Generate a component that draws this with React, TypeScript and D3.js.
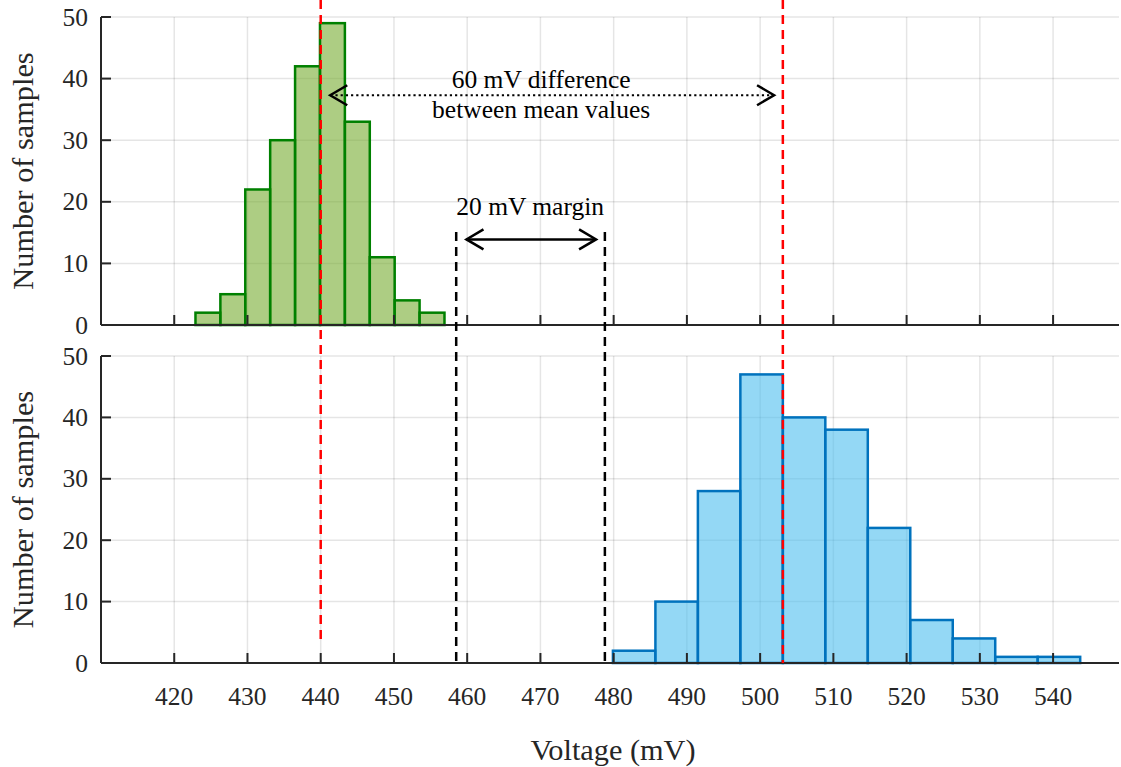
import React from "react";
import * as d3 from "d3";

// ---- data ----
const greenBinEdges = [422.9, 426.3, 429.7, 433.1, 436.5, 439.9, 443.3, 446.7, 450.1, 453.5, 456.9];
const greenCounts = [2, 5, 22, 30, 42, 49, 33, 11, 4, 2];
const blueBinEdges = [479.9, 485.7, 491.5, 497.3, 503.1, 508.9, 514.7, 520.5, 526.3, 532.1, 537.9, 543.7];
const blueCounts = [2, 10, 28, 47, 40, 38, 22, 7, 4, 1, 1];
const xTicks = [420, 430, 440, 450, 460, 470, 480, 490, 500, 510, 520, 530, 540];
const yTicks = [0, 10, 20, 30, 40, 50];
const meanLines = [440, 503.1];
const marginLines = [458.5, 478.8];
const xLabel = "Voltage (mV)";
const yLabel = "Number of samples";
const diffText = ["60 mV difference", "between mean values"];
const marginText = "20 mV margin";

const W = 1121;
const H = 767;
const FONT = "'Liberation Serif', 'Times New Roman', Times, serif";
const AX = "#262626";

export default function App() {
  const x = d3.scaleLinear().domain([410, 549]).range([101, 1119]);
  const yTop = d3.scaleLinear().domain([0, 50]).range([325, 17]);
  const yBot = d3.scaleLinear().domain([0, 50]).range([663, 356]);

  const panel = (
    y: d3.ScaleLinear<number, number>,
    edges: number[],
    counts: number[],
    fill: string,
    stroke: string,
    key: string
  ) => (
    <g key={key}>
      {yTicks.filter((t) => t > 0).map((t) => (
        <line key={"hg" + t} x1={x(410)} x2={x(549)} y1={y(t)} y2={y(t)} stroke="#000" strokeOpacity={0.1} strokeWidth={1.5} />
      ))}
      {xTicks.map((t) => (
        <line key={"vg" + t} x1={x(t)} x2={x(t)} y1={y(0)} y2={y(50)} stroke="#000" strokeOpacity={0.1} strokeWidth={1.5} />
      ))}
      {counts.map((c, i) => (
        <rect
          key={"b" + i}
          x={x(edges[i])}
          width={x(edges[i + 1]) - x(edges[i])}
          y={y(c)}
          height={y(0) - y(c)}
          fill={fill}
          fillOpacity={0.6}
          stroke={stroke}
          strokeWidth={2.5}
        />
      ))}
      <line x1={x(410)} x2={x(549)} y1={y(0)} y2={y(0)} stroke={AX} strokeWidth={2} />
      <line x1={x(410)} x2={x(410)} y1={y(0)} y2={y(50)} stroke={AX} strokeWidth={2} />
      {xTicks.map((t) => (
        <line key={"xt" + t} x1={x(t)} x2={x(t)} y1={y(0)} y2={y(0) - 10} stroke={AX} strokeWidth={2} />
      ))}
      {yTicks.map((t) => (
        <g key={"yt" + t}>
          <line x1={x(410)} x2={x(410) + 10} y1={y(t)} y2={y(t)} stroke={AX} strokeWidth={2} />
          <text x={88} y={y(t)} dy="0.34em" textAnchor="end" fontSize={25.5} fill={AX} fontFamily={FONT}>
            {t}
          </text>
        </g>
      ))}
      <text
        transform={`translate(33,${(y(0) + y(50)) / 2}) rotate(-90)`}
        textAnchor="middle"
        fontSize={30.3}
        fill={AX}
        fontFamily={FONT}
      >
        {yLabel}
      </text>
    </g>
  );

  const head = (tx: number, ty: number, dir: number) =>
    `M${tx + dir * 17},${ty - 10}L${tx},${ty}L${tx + dir * 17},${ty + 10}`;

  const dY = yTop(37.3);
  const dx1 = x(441.3);
  const dx2 = x(501.9);
  const mY = yTop(13.9);
  const mx1 = x(459.9);
  const mx2 = x(477.6);

  return (
    <svg width={W} height={H} style={{ display: "block", position: "absolute", left: 0, top: 0 }}>
      <rect width={W} height={H} fill="#fff" />
      {panel(yTop, greenBinEdges, greenCounts, "#77ac30", "#008000", "top")}
      {panel(yBot, blueBinEdges, blueCounts, "#4dbeee", "#0072bd", "bot")}

      {/* x tick labels */}
      {xTicks.map((t) => (
        <text key={"xl" + t} x={x(t)} y={705} textAnchor="middle" fontSize={25.5} fill={AX} fontFamily={FONT}>
          {t}
        </text>
      ))}
      <text x={(x(410) + x(549)) / 2 + 3} y={760} textAnchor="middle" fontSize={30.3} fill={AX} fontFamily={FONT}>
        {xLabel}
      </text>

      {/* mean lines */}
      {meanLines.map((m, i) => (
        <line
          key={"m" + i}
          x1={x(m)}
          x2={x(m)}
          y1={0}
          y2={i === 0 ? yBot(3.7) : yBot(0)}
          stroke="#ff0000"
          strokeWidth={2.5}
          strokeDasharray="9,6"
        />
      ))}
      {/* margin lines */}
      {marginLines.map((m, i) => (
        <line
          key={"mg" + i}
          x1={x(m)}
          x2={x(m)}
          y1={yTop(15.1)}
          y2={yBot(0)}
          stroke="#000"
          strokeWidth={2.5}
          strokeDasharray="9,6"
        />
      ))}

      {/* difference arrow */}
      <line x1={dx1} x2={dx2} y1={dY} y2={dY} stroke="#000" strokeWidth={2.2} strokeDasharray="2.2,3" />
      <path d={head(dx1, dY, 1)} fill="none" stroke="#000" strokeWidth={2.5} />
      <path d={head(dx2, dY, -1)} fill="none" stroke="#000" strokeWidth={2.5} />
      <text x={x(470.1)} y={88} textAnchor="middle" fontSize={25.5} fill="#000" fontFamily={FONT}>
        {diffText[0]}
      </text>
      <text x={x(470.1)} y={118} textAnchor="middle" fontSize={25.5} fill="#000" fontFamily={FONT}>
        {diffText[1]}
      </text>

      {/* margin arrow */}
      <line x1={mx1} x2={mx2} y1={mY} y2={mY} stroke="#000" strokeWidth={2.5} />
      <path d={head(mx1, mY, 1)} fill="none" stroke="#000" strokeWidth={2.5} />
      <path d={head(mx2, mY, -1)} fill="none" stroke="#000" strokeWidth={2.5} />
      <text x={x(468.6)} y={215} textAnchor="middle" fontSize={25.5} fill="#000" fontFamily={FONT}>
        {marginText}
      </text>
    </svg>
  );
}
